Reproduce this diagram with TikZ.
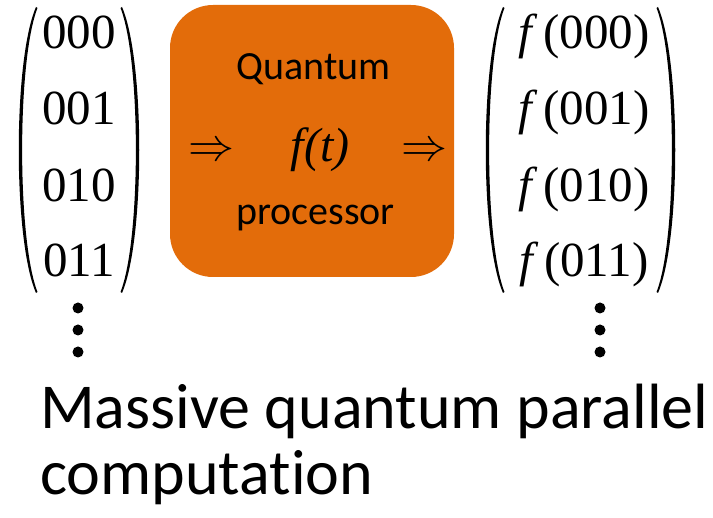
\documentclass[tikz,border=0pt]{standalone}
\usepackage{fontspec}
\setmainfont{Liberation Serif}
\newfontfamily\carlito[Ligatures=NoCommon]{Carlito}
\definecolor{procorange}{HTML}{E36C0A}
\tikzset{
  pics/lpar/.style={code={
    \fill (0,7) .. controls (-23,60) and (-23,240) .. (0,293)
          -- (1.5,292) .. controls (-19,240) and (-19,60) .. (1.5,8) -- cycle;}},
  digit/.style={anchor=base, inner sep=0pt, font=\fontsize{49}{58}\selectfont},
  dotmark/.style={circle, fill=black, inner sep=0pt, minimum size=11pt},
  procbox/.style={rounded corners=43pt, fill=procorange, minimum width=284pt, minimum height=272pt, inner sep=0pt},
  proctext/.style={anchor=base, inner sep=0pt, font=\carlito\fontsize{40}{48}\selectfont},
  arrowtext/.style={anchor=base, inner sep=0pt, scale=4.6},
  caption/.style={anchor=base west, inner sep=0pt, font=\carlito\fontsize{64}{76}\selectfont}
}
\begin{document}
\begin{tikzpicture}[x=1pt,y=-1pt]
\useasboundingbox (0,0) rectangle (713,518);
% left column vector
\pic at (36,0) {lpar};
\pic[xscale=-1] at (122,0) {lpar};
\node[digit] (l0) at (79,49) {000};
\node[digit] (l1) at (79,125) {001};
\node[digit] (l2) at (79,202) {010};
\node[digit] (l3) at (79,277) {011};
\node[dotmark] (ld1) at (78,308) {};
\node[dotmark] (ld2) at (78,330) {};
\node[dotmark] (ld3) at (78,352) {};
% processor
\node[procbox] (proc) at (312,141) {};
\node[proctext] (q) at (313.5,80) {Quantum};
\node[proctext] (p) at (315.5,225) {processor};
\node[anchor=base, inner sep=0pt, font=\fontsize{48}{58}\selectfont\itshape] (ft) at (320,162) {f(t)};
\node[arrowtext] (arL) at (211,160.5) {$\Rightarrow$};
\node[arrowtext] (arR) at (424.5,160.5) {$\Rightarrow$};
% right column vector
\pic at (503,0) {lpar};
\pic[xscale=-1] at (658,0) {lpar};
\node[digit] (r0) at (584,49) {{\itshape f}\hspace{11pt}(000)};
\node[digit] (r1) at (584,125) {{\itshape f}\hspace{11pt}(001)};
\node[digit] (r2) at (584,202) {{\itshape f}\hspace{11pt}(010)};
\node[digit] (r3) at (584,277) {{\itshape f}\hspace{11pt}(011)};
\node[dotmark] (rd1) at (600,308) {};
\node[dotmark] (rd2) at (600,330) {};
\node[dotmark] (rd3) at (600,352) {};
% caption
\node[caption] (c1) at (40,429) {Massive quantum parallel};
\node[caption] (c2) at (40,495) {computation};
\end{tikzpicture}
\end{document}
